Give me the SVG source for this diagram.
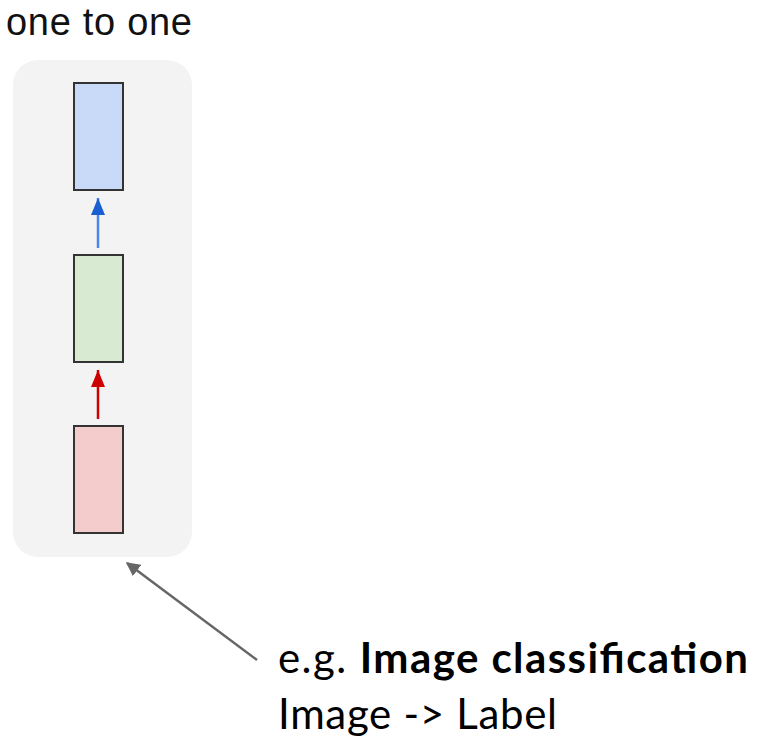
<svg xmlns="http://www.w3.org/2000/svg" width="758" height="742" viewBox="0 0 758 742">
<defs>
<style>
.title{font-family:"Liberation Sans",Arial,sans-serif;font-size:38px;fill:#111}
.note{font-family:Lato,"Open Sans",sans-serif;font-size:42px;fill:#000}
.box{stroke:#333;stroke-width:2}
</style>
<marker id="ab" viewBox="0 0 17 14" refX="17" refY="7" markerWidth="17" markerHeight="14" markerUnits="userSpaceOnUse" orient="auto"><path d="M0,0 L17,7 L0,14 z" fill="#1a5fd0"/></marker>
<marker id="ar" viewBox="0 0 17 14" refX="17" refY="7" markerWidth="17" markerHeight="14" markerUnits="userSpaceOnUse" orient="auto"><path d="M0,0 L17,7 L0,14 z" fill="#cc0000"/></marker>
<marker id="ag" viewBox="0 0 10 10" refX="9" refY="5" markerWidth="14" markerHeight="14" markerUnits="userSpaceOnUse" orient="auto"><path d="M0,0 L10,5 L0,10 z" fill="#666"/></marker>
</defs>
<rect width="758" height="742" fill="#fff"/>
<text class="title" x="6" y="35" textLength="186" lengthAdjust="spacing">one to one</text>
<g id="panel"><rect x="13" y="60" width="179" height="497" rx="25" fill="#f3f3f3"/></g>
<g id="output"><rect class="box" x="74" y="83" width="49" height="107" fill="#c9daf8"/></g>
<g id="hidden"><rect class="box" x="74" y="255" width="49" height="107" fill="#d9ead3"/></g>
<g id="input"><rect class="box" x="74" y="426" width="49" height="107" fill="#f4cccc"/></g>
<g id="connectors">
<line x1="98" y1="248" x2="98" y2="198" stroke="#4a86e8" stroke-width="2.5" marker-end="url(#ab)"/>
<line x1="98" y1="419" x2="98" y2="370" stroke="#cc0000" stroke-width="2.5" marker-end="url(#ar)"/>
<line x1="257" y1="660" x2="127" y2="563" stroke="#666" stroke-width="2.5" marker-end="url(#ag)"/>
</g>
<g id="label">
<text class="note" x="278" y="673" textLength="470" lengthAdjust="spacing">e.g. <tspan font-weight="bold">Image classification</tspan></text>
<text class="note" x="278" y="729" textLength="279" lengthAdjust="spacing">Image -&gt; Label</text>
</g>
</svg>
